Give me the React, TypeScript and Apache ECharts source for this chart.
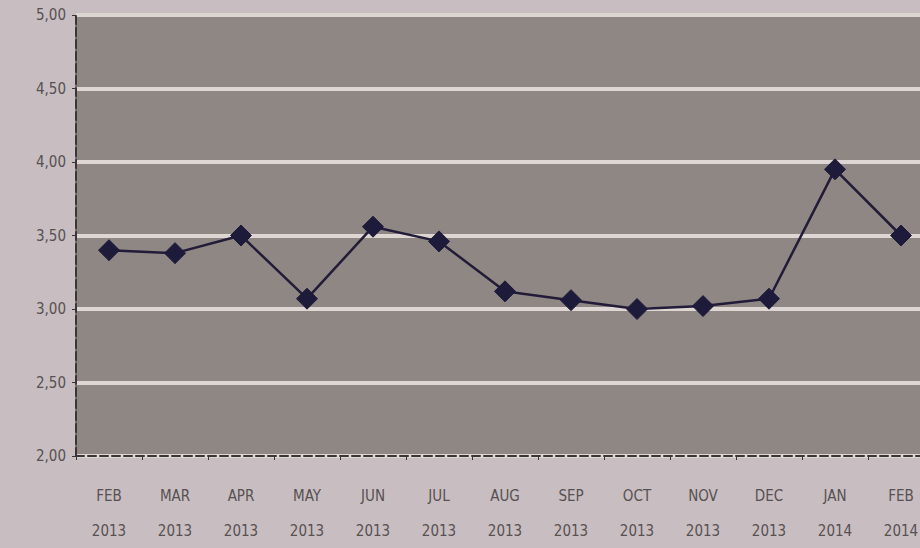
import React, { useEffect, useRef } from "react";
import * as echarts from "echarts";

const months = ["FEB", "MAR", "APR", "MAY", "JUN", "JUL", "AUG", "SEP", "OCT", "NOV", "DEC", "JAN", "FEB"];
const years = ["2013", "2013", "2013", "2013", "2013", "2013", "2013", "2013", "2013", "2013", "2013", "2014", "2014"];
const values = [3.4, 3.38, 3.5, 3.07, 3.56, 3.46, 3.12, 3.06, 3.0, 3.02, 3.07, 3.95, 3.5];
const yTicks = [2.0, 2.5, 3.0, 3.5, 4.0, 4.5, 5.0];

const categories = months.map((m, i) => m + "\n" + years[i]);
const FONT = "'Liberation Sans Narrow', 'DejaVu Sans Condensed', 'Liberation Sans', sans-serif";

export default function App() {
  const ref = useRef<HTMLDivElement>(null);
  useEffect(() => {
    if (!ref.current) return;
    const chart = echarts.init(ref.current, undefined, { renderer: "svg" });
    chart.setOption({
      animation: false,
      backgroundColor: "#c8bdc0",
      grid: {
        show: true,
        left: 76,
        top: 15,
        width: 858,
        height: 443,
        backgroundColor: "#8f8783",
        borderColor: "#3e3a3a",
        borderWidth: 1,
        containLabel: false,
      },
      xAxis: {
        type: "category",
        data: categories,
        boundaryGap: true,
        axisLine: { show: true, lineStyle: { color: "#3a3636", width: 2, type: "dashed" } },
        axisTick: { show: true, length: 4, lineStyle: { color: "#3a3636" } },
        axisLabel: {
          color: "#575153",
          fontFamily: FONT,
          fontSize: 15,
          lineHeight: 35,
          margin: 22,
          interval: 0,
        },
        splitLine: { show: false },
      },
      yAxis: {
        type: "value",
        min: 2,
        max: 5,
        interval: 0.5,
        axisLine: { show: true, lineStyle: { color: "#3a3636", width: 2, type: "dashed" } },
        axisTick: { show: true, length: 4, lineStyle: { color: "#3a3636" } },
        axisLabel: {
          color: "#575153",
          fontFamily: FONT,
          fontSize: 15,
          margin: 10,
          formatter: (v: number) => (yTicks.includes(v) ? v.toFixed(2).replace(".", ",") : ""),
        },
        splitLine: { show: true, lineStyle: { color: "#ddd6d3", width: 4 } },
      },
      series: [
        {
          type: "line",
          data: values,
          symbol: "diamond",
          symbolSize: 21,
          lineStyle: { color: "#221c38", width: 2.5 },
          itemStyle: { color: "#1e1a3a", borderColor: "#1e1a3a" },
        },
      ],
    });
    return () => chart.dispose();
  }, []);
  return (
    <div
      style={{
        position: "fixed",
        left: 0,
        top: 0,
        width: 920,
        height: 548,
        overflow: "hidden",
        background: "#c8bdc0",
      }}
    >
      <div ref={ref} style={{ width: 960, height: 548 }} />
    </div>
  );
}
